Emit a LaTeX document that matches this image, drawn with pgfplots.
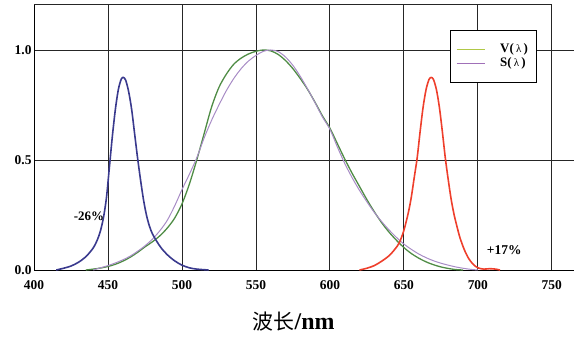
\documentclass[border=0pt]{standalone}
\usepackage{fontspec}
\setmainfont{Liberation Serif}
\newfontfamily\cjk{Noto Sans CJK SC}
\usepackage{pgfplots}
\pgfplotsset{compat=1.18}
\definecolor{bluec}{HTML}{3A3A8E}
\definecolor{redc}{HTML}{EE3F2C}
\definecolor{greenc}{HTML}{4F8C45}
\definecolor{purplec}{HTML}{A88CC6}
\definecolor{leggreen}{RGB}{176,200,70}
\definecolor{legpurple}{RGB}{160,112,184}
\begin{document}
\begin{tikzpicture}
\useasboundingbox (0,0) rectangle (587bp,337bp);
\begin{axis}[
  at={(34bp,67bp)}, anchor=south west,
  scale only axis, width=540bp, height=266bp,
  xmin=400, xmax=765, ymin=0, ymax=1.209,
  clip=false,
  axis x line=bottom, axis y line=left,
  axis line style={-, black, line width=1bp},
  xtick={400,450,500,550,600,650,700,750},
  xticklabels={400,450,500,550,600,650,700,750},
  ytick={0,0.5,1},
  yticklabels={0.0,0.5,1.0},
  grid=major, grid style={black!85, line width=0.8bp},
  major tick length=0pt,
  tick label style={font=\bfseries\fontsize{13.5}{13.5}\selectfont},
  xticklabel style={yshift=-7bp},
  yticklabel style={xshift=1bp},
  xlabel={{\cjk\fontsize{21}{21}\selectfont 波长}{\bfseries\fontsize{24}{24}\selectfont /nm}},
  xlabel style={at={(axis description cs:0.481,0)}, anchor=center, yshift=-52bp},
]
% top border
\draw[black!85, line width=0.8bp] (axis cs:400,1.209) -- (axis cs:750,1.209);

% V(lambda)
\addplot[greenc, line width=1.3bp, smooth]
 coordinates {
(435,0.000)(440,0.004)(445,0.009)(450,0.016)(455,0.026)(460,0.040)(465,0.058)
(470,0.080)(475,0.105)(480,0.128)(485,0.155)(490,0.190)(495,0.235)(500,0.300)
(505,0.390)(510,0.500)(515,0.620)(520,0.740)(525,0.830)(530,0.890)(535,0.935)
(540,0.963)(545,0.982)(550,0.994)(555,1.000)(560,0.996)(565,0.980)(570,0.952)
(575,0.915)(580,0.870)(585,0.820)(590,0.762)(595,0.700)(600,0.645)(605,0.575)
(610,0.505)(615,0.440)(620,0.380)(625,0.320)(630,0.265)(635,0.215)(640,0.172)
(645,0.135)(650,0.102)(655,0.075)(660,0.054)(665,0.037)(670,0.024)(675,0.014)
(680,0.007)(685,0.002)(690,0.000)};

% S(lambda)
\addplot[purplec, line width=1bp, smooth]
 coordinates {
(440,0.000)(445,0.010)(450,0.020)(455,0.032)(460,0.046)(465,0.063)(470,0.085)
(475,0.110)(480,0.140)(485,0.178)(490,0.225)(495,0.290)(500,0.365)(505,0.435)
(510,0.510)(515,0.600)(520,0.680)(525,0.750)(530,0.815)(535,0.870)(540,0.915)
(545,0.950)(550,0.975)(555,0.994)(560,1.000)(565,0.993)(570,0.968)(575,0.930)
(580,0.880)(585,0.822)(590,0.760)(595,0.695)(600,0.640)(605,0.560)(610,0.485)
(615,0.420)(620,0.362)(625,0.310)(630,0.262)(635,0.220)(640,0.182)(645,0.148)
(650,0.118)(655,0.094)(660,0.073)(665,0.056)(670,0.042)(675,0.031)(680,0.022)
(685,0.014)(690,0.008)(695,0.003)(700,0.000)};

% blue LED
\addplot[bluec, line width=1.6bp, smooth, tension=0.5] coordinates {
(415,0.000)(420,0.008)(425,0.018)(430,0.035)(435,0.060)(440,0.100)(443,0.140)
(445,0.180)(447,0.240)(449,0.330)(451,0.470)(453,0.610)(455,0.730)(457,0.820)
(459,0.868)(460.5,0.875)(462,0.862)(464,0.810)(466,0.730)(468,0.620)(470,0.510)
(472,0.410)(474,0.320)(476,0.250)(478,0.200)(480,0.165)(483,0.130)(486,0.100)
(490,0.070)(495,0.042)(500,0.022)(505,0.010)(510,0.004)(518,0.000)};

% red LED
\addplot[redc, line width=1.6bp, smooth, tension=0.5] coordinates {
(620,0.000)(625,0.008)(630,0.020)(635,0.040)(640,0.065)(644,0.095)(647,0.125)
(650,0.180)(653,0.260)(655,0.330)(657,0.420)(659,0.510)(661,0.630)(663,0.740)
(665,0.820)(667,0.866)(668.5,0.875)(670,0.866)(672,0.820)(674,0.740)(676,0.630)
(678,0.510)(680,0.410)(682,0.320)(684,0.250)(686,0.195)(688,0.145)(691,0.090)
(694,0.050)(697,0.025)(700,0.010)(704,0.004)(708,0.006)(712,0.004)(715,0.000)};

% legend, drawn by hand
\draw[black, line width=0.8bp, fill=white] (axis cs:681.6,0.8545) rectangle (axis cs:739.3,1.091);
\draw[leggreen, line width=1.3bp] (axis cs:685.7,1.003) -- (axis cs:704.8,1.003);
\draw[legpurple, line width=1.1bp] (axis cs:685.7,0.9395) -- (axis cs:704.8,0.9395);
\node[anchor=west, inner sep=0pt, font=\bfseries\fontsize{13}{13}\selectfont] at (axis cs:715,1.003) {V(\,{\mdseries\fontsize{11}{11}\selectfont λ}\,)};
\node[anchor=west, inner sep=0pt, font=\bfseries\fontsize{13}{13}\selectfont] at (axis cs:715,0.9395) {S(\,{\mdseries\fontsize{11}{11}\selectfont λ}\,)};

\node[anchor=east, inner sep=0pt, font=\bfseries\fontsize{13}{13}\selectfont] at (axis cs:447.5,0.245) {-26\%};
\node[anchor=west, inner sep=0pt, font=\bfseries\fontsize{13.5}{13.5}\selectfont] at (axis cs:706,0.09) {+17\%};
\end{axis}
\end{tikzpicture}
\end{document}
